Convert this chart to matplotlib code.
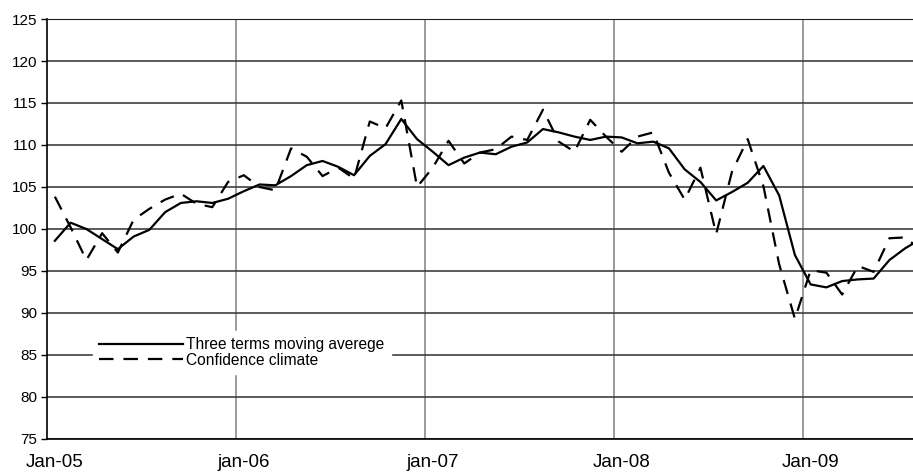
import matplotlib.pyplot as plt

months = list(range(56))  # Jan-05 .. Aug-09
tick_pos = [0, 12, 24, 36, 48]
tick_labels = ["Jan-05", "jan-06", "jan-07", "Jan-08", "Jan-09"]

confidence = [103.85, 100.2, 96.3, 99.5, 97.2, 101.1, 102.4, 103.5, 104.2, 103.0,
              102.6, 105.6, 106.4, 105.0, 104.6, 109.6, 108.6, 106.3, 107.3, 106.0,
              112.8, 112.0, 115.3, 105.0, 107.3, 110.5, 107.8, 109.1, 109.5, 111.0,
              110.6, 114.2, 110.4, 109.2, 113.0, 111.0, 109.2, 111.0, 111.5, 106.7,
              103.5, 107.3, 99.4, 106.8, 110.7, 105.1, 95.8, 89.3, 95.1, 94.8,
              92.2, 95.6, 94.9, 98.9, 99.0, 97.5]

moving_avg = [98.6, 100.75, 100.0, 98.8, 97.6, 99.1, 99.9, 102.0, 103.1, 103.3,
              103.1, 103.6, 104.5, 105.3, 105.2, 106.3, 107.6, 108.1, 107.4, 106.4,
              108.7, 110.1, 113.1, 110.7, 109.2, 107.6, 108.5, 109.1, 108.9, 109.8,
              110.3, 111.9, 111.5, 111.0, 110.6, 111.0, 110.9, 110.2, 110.4, 109.6,
              107.1, 105.6, 103.4, 104.4, 105.5, 107.5, 104.0, 96.9, 93.4, 93.05,
              93.8, 94.0, 94.1, 96.3, 97.7, 98.8]

plt.rcParams['font.family'] = ['Liberation Sans', 'DejaVu Sans']

fig = plt.figure(figsize=(9.13, 4.74), dpi=100)
ax = fig.add_axes([47/913, 1-439/474, (913-47)/913, (439-19)/474])

ax.plot(months, moving_avg, color="black", lw=1.6, label="Three terms moving averege", zorder=3)
ax.plot(months, confidence, color="black", lw=1.6, dashes=(6.5, 4.5),
        label="Confidence climate", zorder=3)

ax.set_xlim(-0.5, 54.5)
ax.set_ylim(75, 125)
ax.set_yticks(range(75, 126, 5))
ax.set_xticks(tick_pos)
ax.set_xticklabels(tick_labels)
ax.set_xticks([11.5, 23.5, 35.5, 47.5], minor=True)

ax.grid(axis="y", which="major", color="#404040", lw=1.2)
ax.grid(axis="x", which="minor", color="#8a8a8a", lw=1.2)
ax.set_axisbelow(True)

ax.tick_params(axis="y", length=4, width=1, pad=3, labelsize=11)
ax.tick_params(axis="x", which="both", length=0, pad=11, labelsize=13.5)

ax.spines["right"].set_visible(False)
ax.spines["top"].set_color("#202020")
ax.spines["left"].set_linewidth(1.2)
ax.spines["bottom"].set_linewidth(1.2)

leg = ax.legend(loc="upper left", bbox_to_anchor=(93/913, 1-331/474),
                bbox_transform=fig.transFigure, borderaxespad=0, borderpad=0.4,
                fontsize=11.2, handlelength=5.4, handletextpad=0.2, labelspacing=0.02,
                frameon=True, fancybox=False)
leg.get_frame().set_facecolor("white")
leg.get_frame().set_edgecolor("white")
leg.get_frame().set_alpha(1)

fig.savefig("out.png", dpi=100)
